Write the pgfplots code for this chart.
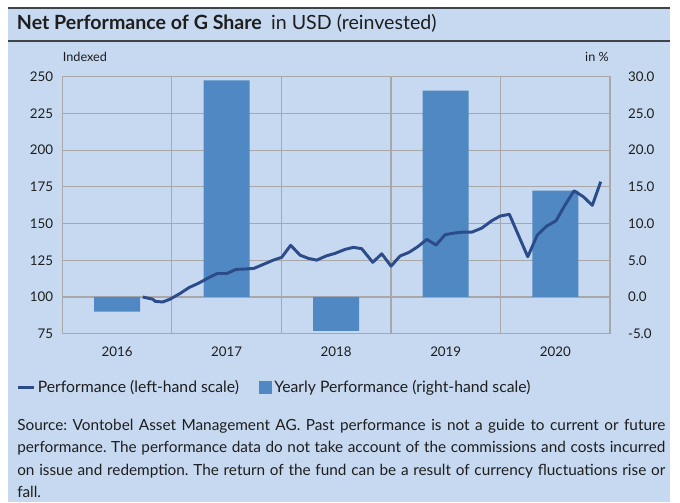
\documentclass[border=0pt]{standalone}
\usepackage{pgfplots}
\pgfplotsset{compat=1.18}
\usepackage{fontspec}
\setmainfont{Lato}
\frenchspacing
\definecolor{bg}{HTML}{C6D9F0}
\definecolor{barblue}{HTML}{4F88C3}
\definecolor{linenavy}{HTML}{2C4B8A}
\definecolor{gridgray}{HTML}{A8A8A8}
\definecolor{titleline}{HTML}{3E4249}
\definecolor{txt}{HTML}{1E1E1E}
\begin{document}
\begin{tikzpicture}
\begin{scope}[x=0.75pt,y=-0.75pt]
\useasboundingbox (0,0) rectangle (680,502);
\fill[white] (0,0) rectangle (680,502);
\fill[bg] (8,8) rectangle (670,502);
\draw[titleline, line width=1.5pt] (8,8) -- (670,8);
\draw[titleline, line width=1.5pt] (8,41) -- (670,41);
\node[anchor=base west, inner sep=0pt, text=txt] at (16.7,30)
  {\fontsize{14.7}{17}\selectfont\bfseries Net Performance of G Share\hspace{7pt}\mdseries in USD (reinvested)};
\node[anchor=base west, inner sep=0pt, text=txt] at (62.7,61.5) {\fontsize{9.5}{11}\selectfont Indexed};
\node[anchor=base east, inner sep=0pt, text=txt] at (609,61.5) {\fontsize{9.5}{11}\selectfont in \%};
\end{scope}

% bars, right-hand scale
\begin{axis}[
  at={(46.725pt,-250.275pt)}, anchor=south west, scale only axis,
  width=410.8pt, height=192.75pt,
  xmin=-0.5, xmax=4.5, ymin=-5, ymax=30,
  yticklabel pos=right,
  ytick={-5,0,...,30},
  xtick={0,1,2,3,4}, xticklabels={2016,2017,2018,2019,2020},
  minor xtick={0.5,1.5,2.5,3.5},
  xminorgrids, ymajorgrids,
  major tick length=0pt, minor tick length=0pt,
  grid style={gridgray, line width=0.9pt},
  minor grid style={gridgray, line width=0.9pt},
  axis line style={gridgray, line width=0.9pt},
  ticklabel style={font=\fontsize{10}{12}\selectfont, text=txt},
  xticklabel style={anchor=north, inner sep=0pt, yshift=-9.6pt},
  yticklabel style={anchor=west, inner sep=0pt, xshift=13.3pt,
    /pgf/number format/.cd, fixed, fixed zerofill, precision=1, assume math mode=true},
]
\addplot[ybar, bar width=0.42, fill=barblue, draw=none]
  coordinates {(0,-2.0) (1,29.5) (2,-4.6) (3,28.1) (4,14.5)};
\end{axis}

% line, left-hand scale
\begin{axis}[
  at={(46.725pt,-250.275pt)}, anchor=south west, scale only axis,
  width=410.8pt, height=192.75pt,
  xmin=-0.5, xmax=4.5, ymin=75, ymax=250,
  axis x line=none, axis y line*=left,
  y axis line style={draw=none},
  ytick={75,100,...,250},
  major tick length=0pt,
  ticklabel style={font=\fontsize{10}{12}\selectfont, text=txt},
  yticklabel style={anchor=east, inner sep=0pt, xshift=-6.75pt,
    /pgf/number format/assume math mode=true},
  legend style={at={(-0.0833,-0.2086)}, anchor=west, draw=none, fill=none,
    inner sep=0pt, outer sep=0pt, legend columns=2,
    font=\fontsize{11.8}{14}\selectfont, text=txt,
    /tikz/every even column/.append style={column sep=13pt}},
  legend cell align=left,
]
\addplot[linenavy, line width=2.2pt, line join=round,
  legend image code/.code={\draw[linenavy, line width=2.2pt] (0pt,0pt) -- (11.7pt,0pt);}]
  coordinates {
(0.234,100) (0.325,98.5) (0.349,97) (0.417,96.6) (0.483,98.5) (0.575,102.4)
(0.659,106.5) (0.742,109.3) (0.833,113) (0.915,116) (1.001,116) (1.086,118.8)
(1.168,119) (1.250,119.5) (1.335,122.2) (1.426,125.1) (1.503,127) (1.585,135.2)
(1.670,128.5) (1.746,126.3) (1.822,125.1) (1.914,128.1) (1.990,129.7) (2.081,132.4)
(2.157,133.8) (2.233,132.9) (2.334,123.6) (2.416,129.4) (2.501,121) (2.583,127.9)
(2.665,130.4) (2.744,134.2) (2.827,139.2) (2.912,135.4) (2.994,142.4) (3.075,143.5)
(3.158,144.2) (3.240,144.2) (3.329,146.9) (3.420,151.9) (3.496,155.1) (3.581,156.3)
(3.663,142.2) (3.749,127.4) (3.836,142.2) (3.922,148.3) (4.007,151.9) (4.089,162.6)
(4.171,172.3) (4.256,168.3) (4.338,162.4) (4.415,178.5)
  };
\addlegendentry{Performance (left-hand scale)}
\addlegendimage{legend image code/.code={\fill[barblue] (0pt,-4.5pt) rectangle (9pt,4.5pt);}}
\addlegendentry{Yearly Performance (right-hand scale)}
\end{axis}

\begin{scope}[x=0.75pt,y=-0.75pt, every node/.style={anchor=base west, inner sep=0pt, text=txt, font=\fontsize{11.5}{14}\selectfont}]
\node at (17,430) {\makebox[486pt][s]{Source: Vontobel Asset Management AG. Past performance is not a guide to current or future}};
\node at (17,452.5) {\makebox[486pt][s]{performance. The performance data do not take account of the commissions and costs incurred}};
\node at (17,475) {\makebox[486pt][s]{on issue and redemption. The return of the fund can be a result of currency fluctuations rise or}};
\node at (17,497.5) {fall.};
\end{scope}
\end{tikzpicture}
\end{document}
